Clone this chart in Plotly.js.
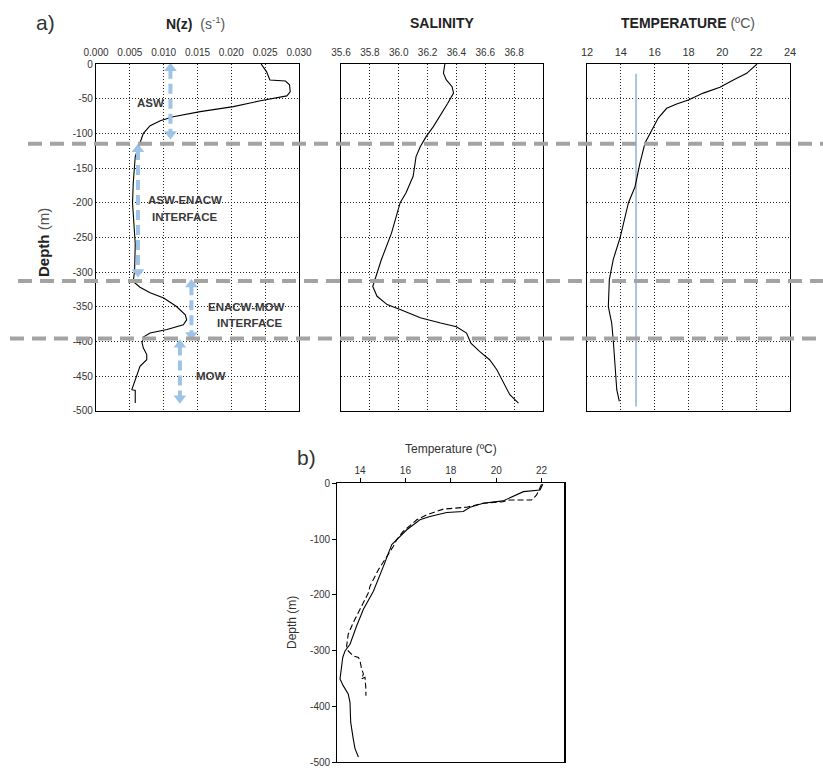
<!DOCTYPE html>
<html>
<head>
<meta charset="utf-8">
<script src="https://cdn.plot.ly/plotly-3.0.1.min.js"></script>
<style>html,body{margin:0;padding:0;background:#fff;}#chart{width:823px;height:768px;}</style>
</head>
<body>
<div id="chart"></div>
<script>
// ---------- data ----------
// Panel a) N(z)
const nzDepth = [0, 11, 23, 24.5, 30, 40, 46, 53, 61.5, 68.7, 76, 81.7, 89, 100, 114, 133.5, 172, 200, 230, 260, 299, 313.6, 322, 330, 337.6, 349.7, 361.7, 369, 376, 383, 388, 393.8, 402, 409.7, 419, 426.5, 436, 450, 462.5, 469.7, 470.7, 489];
const nzValue = [0.0244, 0.0252, 0.0257, 0.0280, 0.0286, 0.0287, 0.0282, 0.0243, 0.0203, 0.0154, 0.0114, 0.0095, 0.0080, 0.0070, 0.0065, 0.0058, 0.0055, 0.0054, 0.0056, 0.0058, 0.0057, 0.0055, 0.0065, 0.0080, 0.0100, 0.0119, 0.0132, 0.0134, 0.0129, 0.0105, 0.0080, 0.0070, 0.0068, 0.0070, 0.0075, 0.0075, 0.0065, 0.0060, 0.0055, 0.0053, 0.0058, 0.0058];

// Panel a) Salinity
const salDepth = [0, 13.4, 23, 32.7, 42, 56.7, 90.3, 104.7, 119, 133.5, 162, 186, 200, 244, 282, 306, 321, 335, 347, 354, 366, 373.6, 379, 388, 402.5, 414.5, 426.5, 441, 457.7, 469.7, 477, 489];
const salValue = [36.32, 36.31, 36.33, 36.37, 36.38, 36.34, 36.24, 36.19, 36.15, 36.12, 36.10, 36.05, 36.01, 35.95, 35.88, 35.84, 35.82, 35.85, 35.92, 36.01, 36.15, 36.29, 36.40, 36.47, 36.50, 36.56, 36.63, 36.68, 36.72, 36.75, 36.77, 36.83];

// Panel a) Temperature
const tempDepth = [0, 13.4, 23, 33.6, 42, 52, 57.6, 63.9, 78, 100, 114, 143, 177, 200, 251, 282, 311, 350, 373.6, 397.7, 436, 469.7, 486.5];
const tempValue = [22.05, 21.44, 20.65, 19.86, 18.87, 17.99, 17.30, 16.71, 16.21, 15.72, 15.43, 15.13, 14.84, 14.45, 13.95, 13.55, 13.32, 13.26, 13.46, 13.55, 13.65, 13.76, 13.91];
const refTemp = [14.9, 14.9];
const refDepth = [14, 494];

// Panel b) Temperature profiles
const bSolidDepth = [1.8, 12, 15, 24, 31.6, 35.7, 42.9, 50.7, 52.5, 59.6, 65.5, 83.4, 101, 110, 149, 178.6, 193.6, 226, 256, 288.8, 300.7, 312.5, 333, 351, 363, 378, 393, 428.6, 458, 476, 491];
const bSolidTemp = [22.05, 21.93, 21.20, 20.75, 20.30, 19.43, 18.85, 18.55, 17.82, 17.08, 16.64, 16.06, 15.62, 15.40, 15.03, 14.74, 14.59, 14.15, 13.85, 13.56, 13.34, 13.24, 13.19, 13.12, 13.26, 13.48, 13.56, 13.59, 13.70, 13.78, 13.93];
const bDashDepth = [1.8, 21, 30, 30, 33, 35.7, 42.9, 46.4, 56.6, 65.5, 86.4, 101, 113, 131, 155, 184.6, 196.4, 226, 250, 271, 292, 300.7, 309.6, 312.5, 318.5, 333, 342, 351, 348, 369, 381];
const bDashTemp = [22.00, 21.78, 21.56, 20.60, 20.30, 19.43, 18.70, 17.67, 16.94, 16.50, 15.90, 15.62, 15.47, 15.18, 14.81, 14.44, 14.37, 14.00, 13.70, 13.48, 13.41, 13.48, 13.70, 13.93, 14.00, 14.07, 14.15, 14.07, 14.22, 14.26, 14.26];

// Water mass boundaries (depth, m)
const boundaryDepth = [115, 313, 396];
const boundaryStart = [28, 18, 10];

// Water mass arrows: x position (N), top and bottom depth
const arrowX = [0.0110, 0.0062, 0.0141, 0.0124];
const arrowTop = [2, 119, 314, 401];
const arrowBottom = [105, 304, 395, 486];

// Water mass labels
const labelText = ['ASW', 'ASW-ENACW', 'INTERFACE', 'ENACW-MOW', 'INTERFACE', 'MOW'];
const labelX = [0.0081, 0.0131, 0.0131, 0.0223, 0.0228, 0.0170];
const labelDepth = [56, 196, 220, 350, 373, 450];

// Ticks
const nzTicks = [0, 0.005, 0.010, 0.015, 0.020, 0.025, 0.030];
const salTicks = [35.6, 35.8, 36.0, 36.2, 36.4, 36.6, 36.8];
const tempTicks = [12, 14, 16, 18, 20, 22, 24];
const bTempTicks = [14, 16, 18, 20, 22];
const depthTicksA = [0, -50, -100, -150, -200, -250, -300, -350, -400, -450, -500];
const depthTicksB = [0, -100, -200, -300, -400, -500];

// ---------- helpers ----------
const W = 823, H = 768;
const neg = a => a.map(v => -v);
const px = v => v / W;
const py = v => 1 - v / H;
const hy = a => a.map(v => (v === 0 ? '0' : '-' + Math.abs(v)));

const FONT = 'Liberation Sans, Arial, sans-serif';
const gridCommon = {
  showgrid: true, gridcolor: '#222', griddash: '1px,2px', gridwidth: 1,
  showline: true, mirror: true, linecolor: '#000', linewidth: 1.2,
  zeroline: false, ticks: '', fixedrange: true
};

const traces = [];
traces.push({x: nzValue, y: neg(nzDepth), xaxis: 'x', yaxis: 'y', mode: 'lines',
  line: {color: '#000', width: 1.1}, hoverinfo: 'skip'});
traces.push({x: salValue, y: neg(salDepth), xaxis: 'x2', yaxis: 'y2', mode: 'lines',
  line: {color: '#000', width: 1.1}, hoverinfo: 'skip'});
traces.push({x: refTemp, y: neg(refDepth), xaxis: 'x3', yaxis: 'y3', mode: 'lines',
  line: {color: '#a9c3dc', width: 2}, hoverinfo: 'skip'});
traces.push({x: tempValue, y: neg(tempDepth), xaxis: 'x3', yaxis: 'y3', mode: 'lines',
  line: {color: '#000', width: 1.1}, hoverinfo: 'skip'});
traces.push({x: bSolidTemp, y: neg(bSolidDepth), xaxis: 'x4', yaxis: 'y4', mode: 'lines',
  line: {color: '#000', width: 1.1}, hoverinfo: 'skip'});
traces.push({x: bDashTemp, y: neg(bDashDepth), xaxis: 'x4', yaxis: 'y4', mode: 'lines',
  line: {color: '#000', width: 1.1, dash: '6px,3px'}, hoverinfo: 'skip'});

// arrows
for (let i = 0; i < arrowX.length; i++) {
  traces.push({x: [arrowX[i], arrowX[i]], y: [-arrowTop[i] - 5, -arrowBottom[i] + 5], xaxis: 'x', yaxis: 'y',
    mode: 'lines', line: {color: '#9dc3e6', width: 4, dash: '10px,5px'}, hoverinfo: 'skip'});
  traces.push({x: [arrowX[i], arrowX[i]], y: [-arrowTop[i] - 4, -arrowBottom[i] + 4], xaxis: 'x', yaxis: 'y',
    mode: 'markers', marker: {symbol: ['triangle-up', 'triangle-down'], size: 11, color: '#9dc3e6'},
    hoverinfo: 'skip', cliponaxis: false});
}

const rowA = [py(410.7), py(64)];
const layout = {
  width: W, height: H, showlegend: false,
  margin: {l: 0, r: 0, t: 0, b: 0},
  paper_bgcolor: '#fff', plot_bgcolor: '#fff',
  font: {family: FONT, color: '#333', size: 10},
  xaxis: Object.assign({}, gridCommon, {domain: [px(96), px(299)], anchor: 'y', side: 'top',
    range: [0, 0.03], tickvals: nzTicks, tickformat: '.3f', ticklabelstandoff: 3, tickfont: {size: 10, color: '#333'}}),
  yaxis: Object.assign({}, gridCommon, {domain: rowA, anchor: 'x', range: [-500, 0],
    tickvals: depthTicksA, ticktext: hy(depthTicksA), tickfont: {size: 10, color: '#333'}}),
  xaxis2: Object.assign({}, gridCommon, {domain: [px(341), px(543)], anchor: 'y2', side: 'top',
    range: [35.6, 37.0], tickvals: salTicks, tickformat: '.1f', ticklabelstandoff: 3, tickfont: {size: 10, color: '#333'}}),
  yaxis2: Object.assign({}, gridCommon, {domain: rowA, anchor: 'x2', range: [-500, 0],
    tickvals: depthTicksA, showticklabels: false}),
  xaxis3: Object.assign({}, gridCommon, {domain: [px(587), px(790)], anchor: 'y3', side: 'top',
    range: [12, 24], tickvals: tempTicks, ticklabelstandoff: 2, tickfont: {size: 11, color: '#333'}}),
  yaxis3: Object.assign({}, gridCommon, {domain: rowA, anchor: 'x3', range: [-500, 0],
    tickvals: depthTicksA, showticklabels: false}),
  xaxis4: {domain: [px(337.3), px(564.3)], anchor: 'y4', side: 'top', range: [13, 23],
    tickvals: bTempTicks, ticks: 'outside', ticklen: 4, tickcolor: '#000',
    showline: true, mirror: true, linecolor: '#000', linewidth: 1.2, showgrid: false, zeroline: false,
    tickfont: {size: 10, color: '#333'}, fixedrange: true},
  yaxis4: {domain: [py(762), py(483.3)], anchor: 'x4', range: [-500, 0],
    tickvals: depthTicksB, ticktext: hy(depthTicksB), ticks: 'outside', ticklen: 4, tickcolor: '#000',
    showline: true, mirror: true, linecolor: '#000', linewidth: 1.2, showgrid: false, zeroline: false,
    tickfont: {size: 10, color: '#333'}, fixedrange: true},
  shapes: boundaryDepth.map((d, i) => ({type: 'line', xref: 'paper', yref: 'y',
    x0: px(boundaryStart[i]), x1: 1, y0: -d, y1: -d, layer: 'above',
    line: {color: '#a3a3a3', width: 4, dash: '14px,8px'}})),
  annotations: []
};

labelText.forEach((t, i) => layout.annotations.push({xref: 'x', yref: 'y', x: labelX[i], y: -labelDepth[i],
  text: '<b>' + t + '</b>', showarrow: false, font: {family: FONT, size: 11.5, color: '#3a3a3a'},
  xanchor: 'center', yanchor: 'middle'}));

const titles = [
  {x: 45, y: 22, text: 'a)', size: 21, color: '#333'},
  {x: 195, y: 23, text: '<b>N(z)</b>  <span style="color:#555">(s<sup>-1</sup>)</span>', size: 14, color: '#222'},
  {x: 442, y: 23, text: '<b>SALINITY</b>', size: 14, color: '#222'},
  {x: 688, y: 23, text: '<b>TEMPERATURE</b> <span style="color:#555">(ºC)</span>', size: 14, color: '#222'},
  {x: 306, y: 457, text: 'b)', size: 21, color: '#333'},
  {x: 451, y: 449, text: 'Temperature (ºC)', size: 12, color: '#333'}
];
titles.forEach(t => layout.annotations.push({xref: 'paper', yref: 'paper', x: px(t.x), y: py(t.y),
  text: t.text, showarrow: false, xanchor: 'center', yanchor: 'middle',
  font: {family: FONT, size: t.size, color: t.color}}));

layout.annotations.push({xref: 'paper', yref: 'paper', x: px(43), y: py(243), textangle: -90,
  text: '<b>Depth</b> <span style="color:#555">(m)</span>', showarrow: false, xanchor: 'center', yanchor: 'middle',
  font: {family: FONT, size: 15, color: '#222'}});
layout.annotations.push({xref: 'paper', yref: 'paper', x: px(292), y: py(623), textangle: -90,
  text: 'Depth (m)', showarrow: false, xanchor: 'center', yanchor: 'middle',
  font: {family: FONT, size: 12, color: '#333'}});

Plotly.newPlot('chart', traces, layout, {displayModeBar: false, staticPlot: true});
</script>
</body>
</html>
